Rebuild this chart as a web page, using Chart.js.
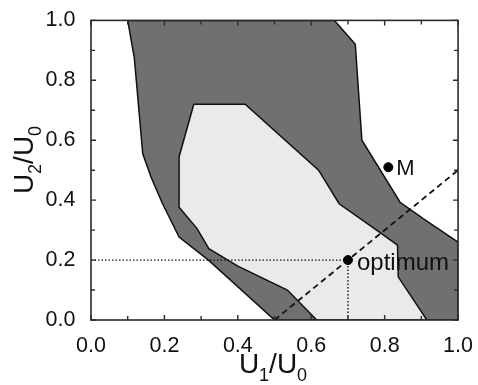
<!DOCTYPE html>
<html><head><meta charset="utf-8">
<script src="https://cdn.jsdelivr.net/npm/chart.js@4/dist/chart.umd.min.js"></script>
<style>html,body{margin:0;padding:0;background:#fff}canvas{display:block}</style>
</head><body>
<canvas id="c" width="478" height="385"></canvas>
<script>
// ---- data ----
const tickValues = [0, 0.2, 0.4, 0.6, 0.8, 1.0];
const minorTickValues = [0.1, 0.3, 0.5, 0.7, 0.9];
const outerX = [0.10, 0.663, 0.72, 0.738, 0.842, 0.905, 1.0, 1.0, 0.50, 0.32, 0.24, 0.195, 0.164, 0.141, 0.118, 0.10];
const outerY = [1.0, 1.0, 0.92, 0.60, 0.393, 0.338, 0.26, 0.0, 0.0, 0.20, 0.277, 0.388, 0.476, 0.555, 0.875, 1.0];
const innerX = [0.28, 0.42, 0.62, 0.676, 0.779, 0.835, 0.837, 0.915, 0.615, 0.535, 0.40, 0.321, 0.289, 0.24, 0.24, 0.28];
const innerY = [0.72, 0.72, 0.50, 0.388, 0.299, 0.25, 0.144, 0.0, 0.0, 0.10, 0.18, 0.238, 0.305, 0.376, 0.545, 0.72];
const dashedX = [0.5, 1.0];
const dashedY = [0.0, 0.5];
const hDotX = [0.0, 0.7];
const hDotY = [0.2, 0.2];
const vDotX = [0.7, 0.7];
const vDotY = [0.0, 0.2];
const pointNames = ['optimum', 'M'];
const pointX = [0.7, 0.81];
const pointY = [0.2, 0.51];

const xy = (xs, ys) => xs.map((x, i) => ({x, y: ys[i]}));
const FONT = "'Liberation Sans', Arial, Helvetica, sans-serif";

const decor = {
  id: 'decor',
  afterDatasetsDraw(chart) {
    const {ctx, chartArea: a, scales: {x, y}} = chart;
    ctx.save();
    // frame
    ctx.strokeStyle = '#2a2a2a';
    ctx.lineWidth = 1.6;
    ctx.strokeRect(a.left, a.top, a.right - a.left, a.bottom - a.top);
    // inward ticks
    ctx.lineWidth = 1.4;
    const drawTick = (v, len) => {
      const px = x.getPixelForValue(v), py = y.getPixelForValue(v);
      ctx.beginPath();
      ctx.moveTo(px, a.bottom); ctx.lineTo(px, a.bottom - len);
      ctx.moveTo(px, a.top); ctx.lineTo(px, a.top + len);
      ctx.moveTo(a.left, py); ctx.lineTo(a.left + len, py);
      ctx.moveTo(a.right, py); ctx.lineTo(a.right - len, py);
      ctx.stroke();
    };
    tickValues.forEach(v => drawTick(v, 5));
    minorTickValues.forEach(v => drawTick(v, 4));
    // point labels
    ctx.fillStyle = '#111';
    ctx.textBaseline = 'alphabetic';
    ctx.textAlign = 'left';
    const opx = x.getPixelForValue(pointX[0]), opy = y.getPixelForValue(pointY[0]);
    ctx.font = '24px ' + FONT;
    ctx.fillText(pointNames[0], opx + 9, opy + 10);
    const mpx = x.getPixelForValue(pointX[1]), mpy = y.getPixelForValue(pointY[1]);
    ctx.font = '22px ' + FONT;
    ctx.fillText(pointNames[1], mpx + 8, mpy + 8);
    // axis titles with subscripts
    const parts = (a, b) => [['U', 0], [a, 1], ['/', 0], ['U', 0], [b, 1]];
    const drawTitle = (segs, cx, base) => {
      let w = 0;
      segs.forEach(([t, s]) => { ctx.font = (s ? '18px ' : '28px ') + FONT; w += ctx.measureText(t).width; });
      let px = cx - w / 2;
      segs.forEach(([t, s]) => {
        ctx.font = (s ? '18px ' : '28px ') + FONT;
        ctx.fillText(t, px, base + (s ? 8 : 0));
        px += ctx.measureText(t).width;
      });
    };
    drawTitle(parts('1', '0'), 273, 373);
    ctx.save();
    ctx.translate(33, 160);
    ctx.rotate(-Math.PI / 2);
    drawTitle(parts('2', '0'), 0, 0);
    ctx.restore();
    ctx.restore();
  }
};

const tickOpts = {
  stepSize: 0.2,
  color: '#111',
  font: {size: 21.5, family: FONT},
  callback: v => v.toFixed(1)
};

new Chart(document.getElementById('c'), {
  type: 'line',
  data: {
    datasets: [
      {data: xy(outerX, outerY), borderColor: '#111', borderWidth: 1.5, backgroundColor: '#707070', fill: 'shape', pointRadius: 0, tension: 0, order: 10},
      {data: xy(innerX, innerY), borderColor: '#111', borderWidth: 1.5, backgroundColor: '#eaeaea', fill: 'shape', pointRadius: 0, tension: 0, order: 9},
      {data: xy(hDotX, hDotY), borderColor: '#111', borderWidth: 1.4, borderDash: [1.5, 2], fill: false, pointRadius: 0, order: 8},
      {data: xy(vDotX, vDotY), borderColor: '#111', borderWidth: 1.4, borderDash: [1.5, 2], fill: false, pointRadius: 0, order: 8},
      {data: xy(dashedX, dashedY), borderColor: '#111', borderWidth: 1.8, borderDash: [6, 4], fill: false, pointRadius: 0, order: 7},
      {data: xy(pointX, pointY), showLine: false, pointRadius: 4.5, pointBackgroundColor: '#000', pointBorderColor: '#000', order: 1}
    ]
  },
  options: {
    responsive: false,
    devicePixelRatio: 1,
    animation: false,
    events: [],
    layout: {padding: {top: 19, right: 16, left: 0, bottom: 0}},
    plugins: {legend: {display: false}, tooltip: {enabled: false}},
    scales: {
      x: {type: 'linear', min: 0, max: 1, grid: {display: false}, border: {display: false},
          ticks: Object.assign({padding: 5}, tickOpts), afterFit: s => { s.height = 65; }},
      y: {type: 'linear', min: 0, max: 1, grid: {display: false}, border: {display: false},
          ticks: Object.assign({padding: 7.5}, tickOpts), afterFit: s => { s.width = 91; }}
    }
  },
  plugins: [decor]
});
</script>
</body></html>
